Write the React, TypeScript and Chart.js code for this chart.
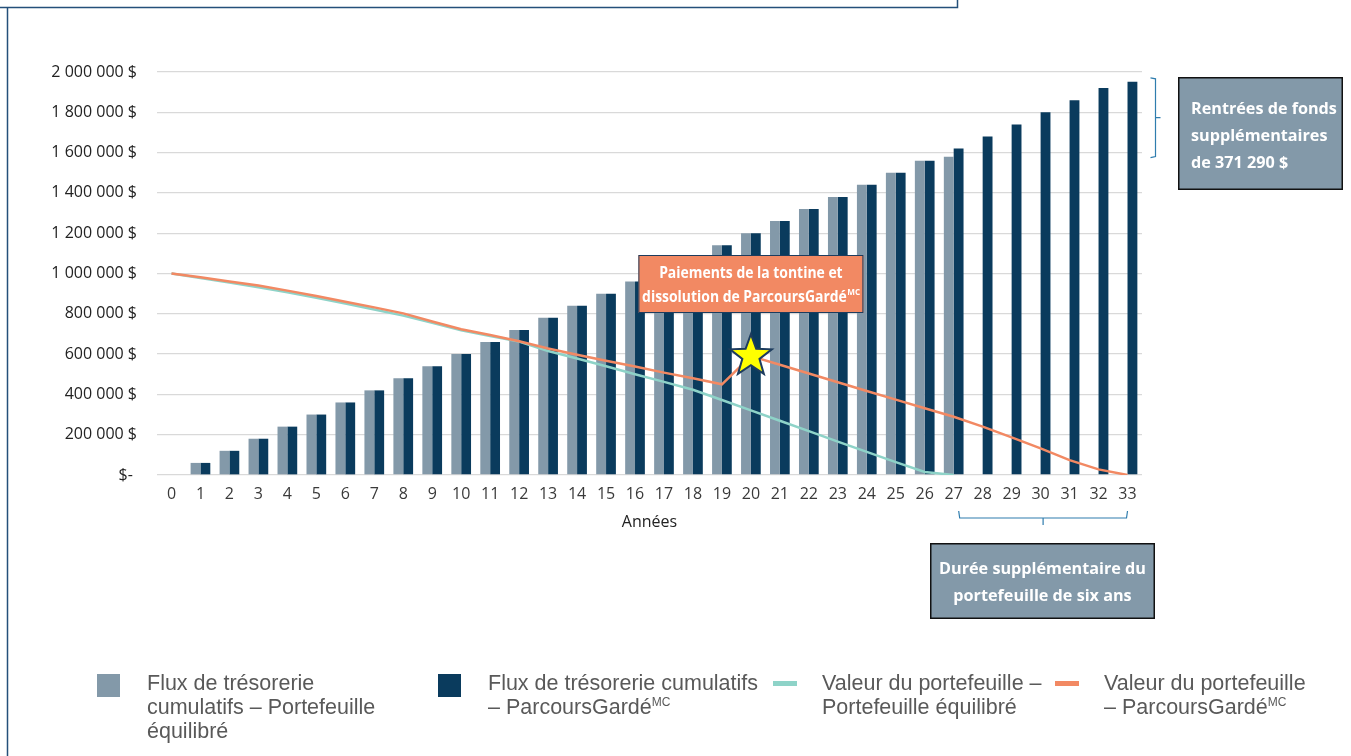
import React, { useEffect, useRef } from "react";
import { Chart, registerables } from "chart.js";

Chart.register(...registerables);

// ---------- DATA ----------
const years = [
  "0", "1", "2", "3", "4", "5", "6", "7", "8", "9", "10", "11", "12", "13", "14", "15", "16",
  "17", "18", "19", "20", "21", "22", "23", "24", "25", "26", "27", "28", "29", "30", "31", "32", "33",
];

const cashflowBalanced = [
  0, 60000, 120000, 180000, 240000, 300000, 360000, 420000, 480000, 540000, 600000, 660000,
  720000, 780000, 840000, 900000, 960000, 1020000, 1080000, 1140000, 1200000, 1260000, 1320000,
  1380000, 1440000, 1500000, 1560000, 1580000, null, null, null, null, null, null,
];

const cashflowParcours = [
  0, 60000, 120000, 180000, 240000, 300000, 360000, 420000, 480000, 540000, 600000, 660000,
  720000, 780000, 840000, 900000, 960000, 1020000, 1080000, 1140000, 1200000, 1260000, 1320000,
  1380000, 1440000, 1500000, 1560000, 1620000, 1680000, 1740000, 1800000, 1860000, 1920000, 1951290,
];

const valueBalanced = [
  1000000, 978000, 955000, 932000, 907000, 880000, 851000, 821000, 791000, 755000, 718000, 690000,
  662000, 615000, 578000, 540000, 500000, 462000, 423000, 372000, 321000, 269000, 218000, 166000,
  115000, 64000, 15000, 0, null, null, null, null, null, null,
];

const valueParcours = [
  1000000, 981000, 960000, 940000, 915000, 888000, 860000, 832000, 802000, 762000, 723000, 695000,
  664000, 628000, 597000, 567000, 538000, 508000, 480000, 450000, 590000, 547000, 504000, 460000,
  417000, 374000, 331000, 289000, 240000, 187000, 132000, 74000, 28000, 0,
];

const yTicks = [0, 200000, 400000, 600000, 800000, 1000000, 1200000, 1400000, 1600000, 1800000, 2000000];

const starYearIndex = 20;
const extraFundsTop = 1951290;
const extraFundsBottom = 1580000;
const extraYearsStart = 27;
const extraYearsEnd = 33;

const seriesNames = {
  balancedCash: ["Flux de trésorerie", "cumulatifs – Portefeuille", "équilibré"],
  parcoursCash: ["Flux de trésorerie cumulatifs", "– ParcoursGardé"],
  balancedValue: ["Valeur du portefeuille –", "Portefeuille équilibré"],
  parcoursValue: ["Valeur du portefeuille", "– ParcoursGardé"],
};

// ---------- STYLE ----------
const COLOR_LIGHT = "#8399A9";
const COLOR_DARK = "#0A3B5D";
const COLOR_TEAL = "#8ED3C8";
const COLOR_ORANGE = "#F28963";
const COLOR_BOX_GRAY = "#8399A9";
const COLOR_BRACKET = "#2F7DAE";
const COLOR_FRAME = "#24507A";
const BOX_FONT = 'bold 16.2px "Open Sans"';
const SUP_FONT = 'bold 9.5px "Open Sans"';

function formatMoney(v: number): string {
  if (v === 0) return "$- ";
  const s = Math.round(v).toString().replace(/\B(?=(\d{3})+(?!\d))/g, " ");
  return s + " $";
}

function drawStar(ctx: CanvasRenderingContext2D, cx: number, cy: number, R: number, r: number) {
  ctx.beginPath();
  for (let i = 0; i < 10; i++) {
    const rad = i % 2 === 0 ? R : r;
    const a = -Math.PI / 2 + (i * Math.PI) / 5;
    const px = cx + rad * Math.cos(a);
    const py = cy + rad * Math.sin(a);
    if (i === 0) ctx.moveTo(px, py);
    else ctx.lineTo(px, py);
  }
  ctx.closePath();
  ctx.fillStyle = "#FFFF00";
  ctx.fill();
  ctx.lineWidth = 2;
  ctx.strokeStyle = "#1D3C5E";
  ctx.stroke();
}

// centred text (optionally with a superscript), horizontally compressed by sx
function centredText(
  ctx: CanvasRenderingContext2D,
  main: string,
  sup: string,
  cx: number,
  baseline: number,
  sx: number
) {
  ctx.save();
  ctx.textAlign = "left";
  ctx.font = BOX_FONT;
  const w1 = ctx.measureText(main).width;
  ctx.font = SUP_FONT;
  const w2 = sup ? ctx.measureText(sup).width : 0;
  const total = (w1 + w2) * sx;
  ctx.translate(cx - total / 2, baseline);
  ctx.scale(sx, 1);
  ctx.font = BOX_FONT;
  ctx.fillText(main, 0, 0);
  if (sup) {
    ctx.font = SUP_FONT;
    ctx.fillText(sup, w1 + 0.5, -7);
  }
  ctx.restore();
}

const annotationPlugin = {
  id: "customAnnotations",
  afterDraw(chart: any) {
    const { ctx, chartArea: area } = chart;
    const xs = chart.scales.x;
    const ys = chart.scales.y;
    ctx.save();

    // outer frame
    ctx.strokeStyle = COLOR_FRAME;
    ctx.lineWidth = 1.5;
    ctx.beginPath();
    ctx.moveTo(0, 7.5);
    ctx.lineTo(957.5, 7.5);
    ctx.lineTo(957.5, 0);
    ctx.moveTo(7.5, 7.5);
    ctx.lineTo(7.5, chart.height);
    ctx.stroke();

    // axis title
    ctx.fillStyle = "#222222";
    ctx.font = '16px "Open Sans"';
    ctx.textAlign = "center";
    ctx.textBaseline = "middle";
    ctx.fillText("Années", (area.left + area.right) / 2, area.bottom + 47);
    ctx.textBaseline = "alphabetic";

    // star on the ParcoursGardé value line
    const meta = chart.getDatasetMeta(0);
    const pt = meta.data[starYearIndex];
    if (pt) drawStar(ctx, pt.x, pt.y, 22, 9);

    // Orange box
    const oCx = xs.getPixelForValue(starYearIndex);
    const oW = 225;
    const oH = 58;
    const oTop = 255;
    ctx.fillStyle = COLOR_ORANGE;
    ctx.fillRect(oCx - oW / 2, oTop, oW, oH);
    ctx.strokeStyle = "#1D3C5E";
    ctx.lineWidth = 1;
    ctx.strokeRect(oCx - oW / 2 + 0.5, oTop + 0.5, oW - 1, oH - 1);
    ctx.fillStyle = "#FFFFFF";
    centredText(ctx, "Paiements de la tontine et", "", oCx, oTop + 23, 0.86);
    centredText(ctx, "dissolution de ParcoursGardé", "MC", oCx, oTop + 47, 0.86);

    // Right bracket for extra funds
    const bTop = ys.getPixelForValue(extraFundsTop) - 4;
    const bBot = ys.getPixelForValue(extraFundsBottom) + 1;
    const bx = 1155.5;
    ctx.strokeStyle = COLOR_BRACKET;
    ctx.lineWidth = 1.2;
    ctx.beginPath();
    ctx.moveTo(bx - 5, bTop);
    ctx.lineTo(bx, bTop + 1);
    ctx.lineTo(bx, bBot - 1);
    ctx.lineTo(bx - 5, bBot);
    ctx.moveTo(bx, (bTop + bBot) / 2);
    ctx.lineTo(bx + 5, (bTop + bBot) / 2);
    ctx.stroke();

    // Gray box top right
    const g1x = 1178, g1y = 77, g1w = 165, g1h = 113;
    ctx.fillStyle = COLOR_BOX_GRAY;
    ctx.fillRect(g1x, g1y, g1w, g1h);
    ctx.strokeStyle = "#111111";
    ctx.lineWidth = 1.5;
    ctx.strokeRect(g1x + 0.75, g1y + 0.75, g1w - 1.5, g1h - 1.5);
    ctx.fillStyle = "#FFFFFF";
    ctx.font = BOX_FONT;
    ctx.textAlign = "left";
    ctx.fillText("Rentrées de fonds", g1x + 13, 114);
    ctx.fillText("supplémentaires", g1x + 13, 141);
    ctx.fillText("de 371 290 $", g1x + 13, 168);

    // Bottom bracket for extra years
    const hx1 = xs.getPixelForValue(extraYearsStart) + 5;
    const hx2 = xs.getPixelForValue(extraYearsEnd);
    const hy = 518;
    ctx.strokeStyle = COLOR_BRACKET;
    ctx.lineWidth = 1.2;
    ctx.beginPath();
    ctx.moveTo(hx1, hy - 7);
    ctx.lineTo(hx1 + 1, hy);
    ctx.lineTo(hx2 - 1, hy);
    ctx.lineTo(hx2, hy - 7);
    const mid = (hx1 + hx2) / 2;
    ctx.moveTo(mid, hy);
    ctx.lineTo(mid, hy + 7);
    ctx.stroke();

    // Gray box bottom
    const g2x = 930, g2y = 543, g2w = 225, g2h = 76;
    ctx.fillStyle = COLOR_BOX_GRAY;
    ctx.fillRect(g2x, g2y, g2w, g2h);
    ctx.strokeStyle = "#111111";
    ctx.lineWidth = 1.5;
    ctx.strokeRect(g2x + 0.75, g2y + 0.75, g2w - 1.5, g2h - 1.5);
    ctx.fillStyle = "#FFFFFF";
    centredText(ctx, "Durée supplémentaire du", "", g2x + g2w / 2, 574, 1);
    centredText(ctx, "portefeuille de six ans", "", g2x + g2w / 2, 601, 1);

    ctx.restore();
  },
};

const legendTextStyle: React.CSSProperties = {
  position: "absolute",
  top: 671,
  fontFamily: '"Liberation Sans", Arial, sans-serif',
  fontSize: 21.5,
  lineHeight: "24px",
  color: "#595959",
  whiteSpace: "nowrap",
};

const supStyle: React.CSSProperties = {
  fontSize: 12,
  position: "relative",
  top: -8,
  lineHeight: 0,
};

export default function App() {
  const canvasRef = useRef<HTMLCanvasElement | null>(null);

  useEffect(() => {
    if (!canvasRef.current) return;
    const chart = new Chart(canvasRef.current, {
      type: "bar",
      data: {
        labels: years,
        datasets: [
          {
            type: "line",
            label: seriesNames.parcoursValue.join(" "),
            data: valueParcours,
            borderColor: COLOR_ORANGE,
            backgroundColor: COLOR_ORANGE,
            borderWidth: 2.5,
            pointRadius: 0,
            tension: 0,
            order: 0,
          } as any,
          {
            type: "line",
            label: seriesNames.balancedValue.join(" "),
            data: valueBalanced,
            borderColor: COLOR_TEAL,
            backgroundColor: COLOR_TEAL,
            borderWidth: 2.5,
            pointRadius: 0,
            tension: 0,
            order: 1,
          } as any,
          {
            type: "bar",
            label: seriesNames.balancedCash.join(" "),
            data: cashflowBalanced,
            backgroundColor: COLOR_LIGHT,
            barPercentage: 1,
            categoryPercentage: 0.68,
            order: 2,
          },
          {
            type: "bar",
            label: seriesNames.parcoursCash.join(" "),
            data: cashflowParcours,
            backgroundColor: COLOR_DARK,
            barPercentage: 1,
            categoryPercentage: 0.68,
            order: 3,
          },
        ],
      },
      options: {
        responsive: false,
        animation: false,
        devicePixelRatio: 1,
        layout: { padding: { left: 0, right: 209, top: 72, bottom: 231 } },
        plugins: {
          legend: { display: false },
          tooltip: { enabled: false },
        },
        scales: {
          x: {
            grid: { display: false, drawTicks: false },
            border: { display: false },
            ticks: {
              color: "#3a3a3a",
              font: { family: "Open Sans", size: 16 },
              padding: 10,
              maxRotation: 0,
              autoSkip: false,
            },
            afterFit: (s: any) => {
              s.height = 50;
            },
          },
          y: {
            min: 0,
            max: 2000000,
            afterBuildTicks: (s: any) => {
              s.ticks = yTicks.map((v) => ({ value: v }));
            },
            ticks: {
              color: "#222222",
              font: { family: "Open Sans", size: 16 },
              padding: 20,
              callback: (v: any) => formatMoney(Number(v)),
            },
            grid: { color: "#D9D9D9", drawTicks: false, lineWidth: 1.3 },
            border: { display: false },
            afterFit: (s: any) => {
              s.width = 157;
            },
          },
        },
      },
      plugins: [annotationPlugin],
    });
    return () => chart.destroy();
  }, []);

  return (
    <div
      style={{
        position: "absolute",
        left: 0,
        top: 0,
        width: 1351,
        height: 756,
        overflow: "hidden",
        background: "#FFFFFF",
      }}
    >
      <canvas ref={canvasRef} width={1351} height={756} style={{ position: "absolute", left: 0, top: 0 }} />

      <div style={{ position: "absolute", left: 97, top: 674, width: 23, height: 23, background: COLOR_LIGHT }} />
      <div style={{ ...legendTextStyle, left: 147 }}>
        {seriesNames.balancedCash[0]}
        <br />
        {seriesNames.balancedCash[1]}
        <br />
        {seriesNames.balancedCash[2]}
      </div>

      <div style={{ position: "absolute", left: 438, top: 674, width: 23, height: 23, background: COLOR_DARK }} />
      <div style={{ ...legendTextStyle, left: 488 }}>
        {seriesNames.parcoursCash[0]}
        <br />
        {seriesNames.parcoursCash[1]}
        <span style={supStyle}>MC</span>
      </div>

      <div style={{ position: "absolute", left: 773, top: 681, width: 24, height: 5, background: COLOR_TEAL }} />
      <div style={{ ...legendTextStyle, left: 822 }}>
        {seriesNames.balancedValue[0]}
        <br />
        {seriesNames.balancedValue[1]}
      </div>

      <div style={{ position: "absolute", left: 1055, top: 681, width: 24, height: 5, background: COLOR_ORANGE }} />
      <div style={{ ...legendTextStyle, left: 1104 }}>
        {seriesNames.parcoursValue[0]}
        <br />
        {seriesNames.parcoursValue[1]}
        <span style={supStyle}>MC</span>
      </div>
    </div>
  );
}
